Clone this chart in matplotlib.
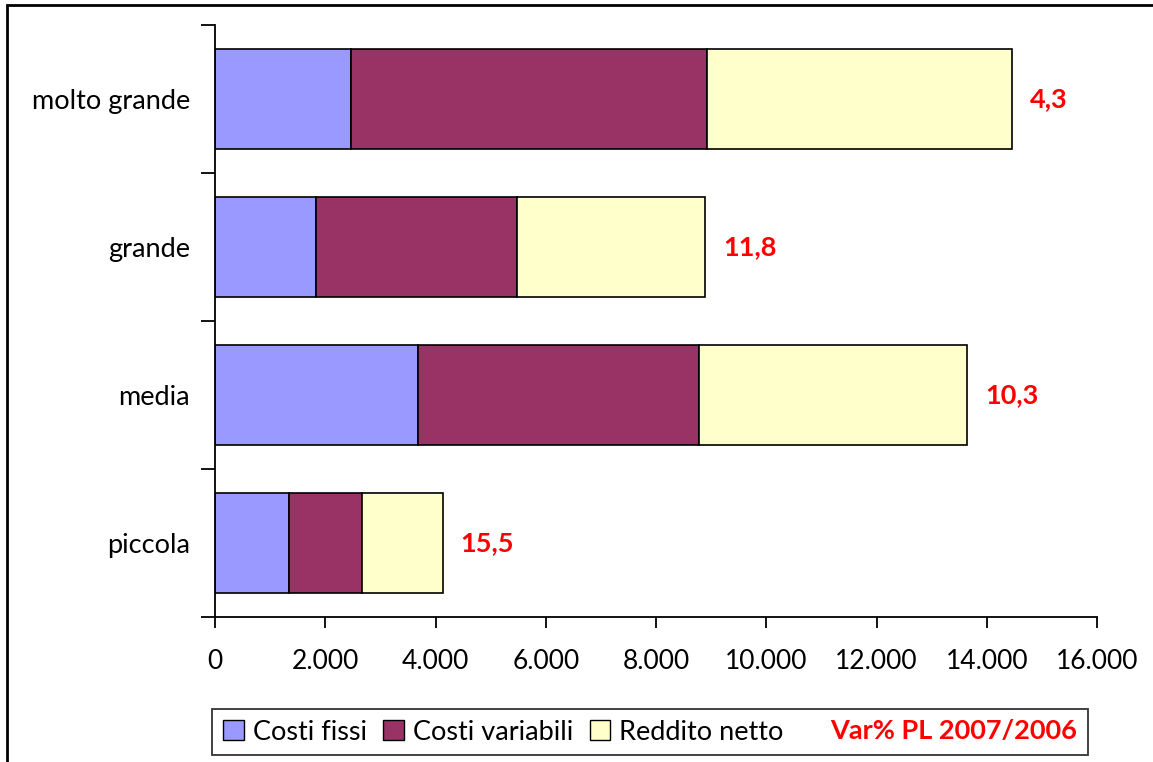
import matplotlib
matplotlib.use("Agg")
import matplotlib.pyplot as plt
from matplotlib.patches import Rectangle, Patch
import numpy as np

categories = ["piccola", "media", "grande", "molto grande"]
costi_fissi = [1343, 3684, 1833, 2468]
costi_variabili = [1325, 5100, 3648, 6461]
reddito_netto = [1470, 4864, 3412, 5536]
var_pl = ["15,5", "10,3", "11,8", "4,3"]
x_ticks = [0, 2000, 4000, 6000, 8000, 10000, 12000, 14000, 16000]
x_tick_labels = ["0", "2.000", "4.000", "6.000", "8.000", "10.000", "12.000", "14.000", "16.000"]

plt.rcParams['font.family'] = ['Lato', 'DejaVu Sans']

W, H = 1153, 762
fig = plt.figure(figsize=(W/100, H/100), dpi=100)
ax = fig.add_axes([215/W, 1 - 617/H, (1097-215)/W, (617-25)/H])

y = np.arange(len(categories))
h = 0.67
c1, c2, c3 = "#9999FF", "#993366", "#FFFFCC"
ax.barh(y, costi_fissi, height=h, color=c1, edgecolor="black", linewidth=1.2)
left2 = np.array(costi_fissi)
ax.barh(y, costi_variabili, left=left2, height=h, color=c2, edgecolor="black", linewidth=1.2)
left3 = left2 + np.array(costi_variabili)
ax.barh(y, reddito_netto, left=left3, height=h, color=c3, edgecolor="black", linewidth=1.2)
totals = left3 + np.array(reddito_netto)
for yi, t, lab in zip(y, totals, var_pl):
    ax.text(t + 320, yi, lab, color="red", fontweight="bold", fontsize=19.5,
            va="center", ha="left")

ax.set_xlim(0, 16000)
ax.set_ylim(-0.5, len(categories) - 0.5)
ax.set_xticks(x_ticks)
ax.set_xticklabels(x_tick_labels, fontsize=19)
ax.set_yticks(y)
ax.set_yticklabels(categories, fontsize=19.5)
ax.tick_params(axis='y', which='major', length=0, pad=18)
ax.set_yticks(np.arange(-0.5, len(categories), 1), minor=True)
ax.tick_params(axis='y', which='minor', length=10, width=1.3, direction='out')
ax.tick_params(axis='x', which='major', length=8, width=1.3, direction='out', pad=15)
for s in ['top', 'right']:
    ax.spines[s].set_visible(False)
for s in ['left', 'bottom']:
    ax.spines[s].set_linewidth(1.3)

# outer frame
fig.patches.append(Rectangle((7/W, -0.01), 1.2, 1 - 5/H + 0.01, transform=fig.transFigure,
                             fill=False, edgecolor="black", linewidth=2))

handles = [Patch(facecolor=c1, edgecolor="black"),
           Patch(facecolor=c2, edgecolor="black"),
           Patch(facecolor=c3, edgecolor="black"),
           Patch(facecolor="none", edgecolor="none")]
labels = ["Costi fissi", "Costi variabili", "Reddito netto", "Var% PL 2007/2006"]
leg = fig.legend(handles, labels, loc="center", bbox_to_anchor=(650/W, 1 - 732/H),
                 ncol=4, fontsize=19.5, frameon=True, fancybox=False,
                 edgecolor="black", handlelength=0.75, handleheight=0.75,
                 handletextpad=0.35, columnspacing=0.6, borderpad=0.4)
leg.get_frame().set_linewidth(1.3)
t4 = leg.get_texts()[3]
t4.set_color("red")
t4.set_fontweight("bold")

fig.savefig("out.png", dpi=100)
